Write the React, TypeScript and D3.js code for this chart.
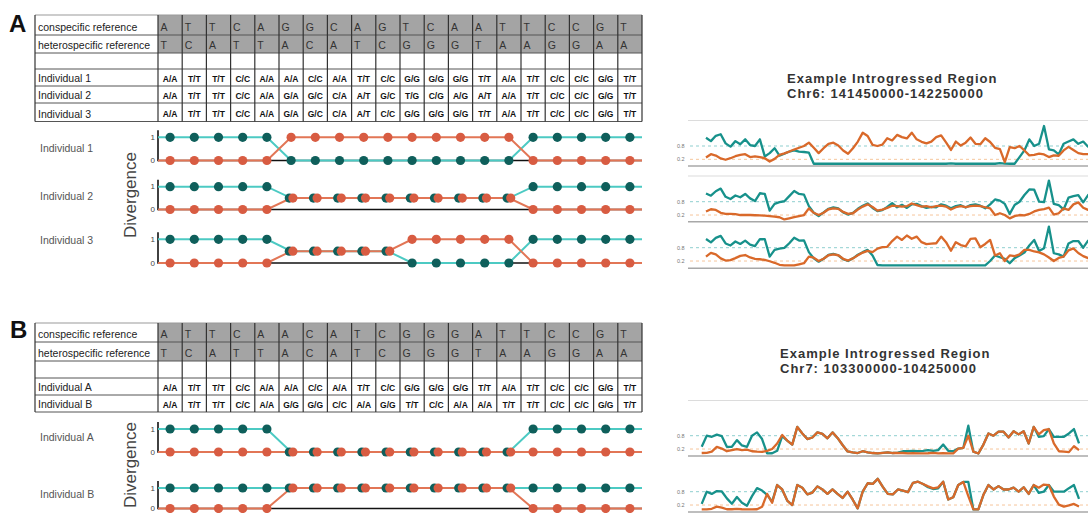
import React from "react";
import * as d3 from "d3";

// ---------------- DATA ----------------
const sites = d3.range(20);

const conspecificA = "A T T C A G G C A G T C A A T T C C G T".split(" ");
const heterospecificA = "T C A T T A C A T C G G G T A A G G A A".split(" ");
const individualsA = ["Individual 1", "Individual 2", "Individual 3"];
const genotypesA = [
  "A/A T/T T/T C/C A/A A/A C/C A/A T/T C/C G/G G/G G/G T/T A/A T/T C/C C/C G/G T/T".split(" "),
  "A/A T/T T/T C/C A/A G/A G/C C/A A/T G/C T/G C/G A/G A/T A/A T/T C/C C/C G/G T/T".split(" "),
  "A/A T/T T/T C/C A/A G/A G/C C/A A/T C/C G/G G/G G/G T/T A/A T/T C/C C/C G/G T/T".split(" "),
];

const conspecificB = "A T T C A A C A T C G G G A T T C C G T".split(" ");
const heterospecificB = "T C A T T A C A T C G G G T A A G G A A".split(" ");
const individualsB = ["Individual A", "Individual B"];
const genotypesB = [
  "A/A T/T T/T C/C A/A A/A C/C A/A T/T C/C G/G G/G G/G T/T A/A T/T C/C C/C G/G T/T".split(" "),
  "A/A T/T T/T C/C A/A G/G G/G C/C A/A G/G T/T C/C A/A A/A T/T T/T C/C C/C G/G T/T".split(" "),
];

const refLabels = ["conspecific reference", "heterospecific reference"];
const divTicks = [1, 0];

// divergence per site (teal = from heterospecific, orange = from conspecific)
const ind1Het = [1, 1, 1, 1, 1, 0, 0, 0, 0, 0, 0, 0, 0, 0, 0, 1, 1, 1, 1, 1];
const ind1Con = [0, 0, 0, 0, 0, 1, 1, 1, 1, 1, 1, 1, 1, 1, 1, 0, 0, 0, 0, 0];
const ind2Het = [1, 1, 1, 1, 1, 0.5, 0.5, 0.5, 0.5, 0.5, 0.5, 0.5, 0.5, 0.5, 0.5, 1, 1, 1, 1, 1];
const ind2Con = [0, 0, 0, 0, 0, 0.5, 0.5, 0.5, 0.5, 0.5, 0.5, 0.5, 0.5, 0.5, 0.5, 0, 0, 0, 0, 0];
const ind3Het = [1, 1, 1, 1, 1, 0.5, 0.5, 0.5, 0.5, 0.5, 0, 0, 0, 0, 0, 1, 1, 1, 1, 1];
const ind3Con = [0, 0, 0, 0, 0, 0.5, 0.5, 0.5, 0.5, 0.5, 1, 1, 1, 1, 1, 0, 0, 0, 0, 0];
const indAHet = [1, 1, 1, 1, 1, 0, 0, 0, 0, 0, 0, 0, 0, 0, 0, 1, 1, 1, 1, 1];
const indACon = [0, 0, 0, 0, 0, 0, 0, 0, 0, 0, 0, 0, 0, 0, 0, 0, 0, 0, 0, 0];
const indBHet = [1, 1, 1, 1, 1, 1, 1, 1, 1, 1, 1, 1, 1, 1, 1, 1, 1, 1, 1, 1];
const indBCon = [0, 0, 0, 0, 0, 1, 1, 1, 1, 1, 1, 1, 1, 1, 1, 0, 0, 0, 0, 0];

const titleA = ["Example Introgressed Region", "Chr6: 141450000-142250000"];
const titleB = ["Example Introgressed Region", "Chr7: 103300000-104250000"];
const trackTicks = [0.8, 0.2];

// Chr6 windows (80)
const a1Teal = [1.17, 1.02, 1.26, 1.33, 0.92, 0.77, 1.02, 0.88, 1.1, 0.84,
  0.8, 1.1, 0.33, 0.48, 0.7, 0.37, 0.45, 0.55, 0.6, 0.55,
  0.53, 0.5, 0, 0, 0, 0, 0, 0, 0, 0,
  0, 0, 0, 0, 0, 0, 0, 0, 0, 0,
  0, 0, 0, 0, 0, 0, 0, 0, 0, 0,
  0.02, 0, 0, 0, 0, 0, 0, 0, 0, 0,
  0.03, 0.01, 0, 0, 0.3, 0.6, 1.1, 0.8, 0.9, 1.7,
  0.65, 0.6, 0.42, 0.9, 1.0, 1.1, 0.9, 1.0, 0.77, 0.9];
const a1Orange = [0.28, 0.43, 0.37, 0.24, 0.18, 0.25, 0.34, 0.4, 0.43, 0.3,
  0.33, 0.3, 0.25, 0.1, 0.22, 0.4, 0.47, 0.55, 0.64, 0.72,
  0.8, 0.95, 0.72, 0.48, 0.7, 0.9, 0.95, 0.82, 0.6, 0.45,
  0.7, 1.0, 1.4, 1.25, 0.85, 0.8, 0.86, 1.15, 1.05, 1.3,
  1.2, 1.14, 1.4, 1.1, 0.99, 0.92, 1.0, 1.2, 1.28, 0.96,
  0.62, 1.0, 0.82, 0.95, 1.18, 0.9, 0.88, 1.15, 0.98, 0.72,
  0.66, 0.07, 0.75, 0.7, 0.8, 0.6, 0.38, 0.4, 0.46, 0.42,
  0.3, 0.38, 0.36, 0.6, 0.76, 0.62, 0.48, 0.43, 0.43, 0.4];
const a2Teal = [1.17, 1.07, 1.27, 1.39, 1.02, 0.92, 1.08, 1.0, 1.15, 0.95,
  0.83, 1.18, 1.15, 0.4, 0.7, 0.78, 0.82, 1.05, 1.28, 1.15,
  1.12, 0.6, 0.3, 0.15, 0.32, 0.48, 0.54, 0.5, 0.32, 0.22,
  0.3, 0.48, 0.62, 0.72, 0.52, 0.38, 0.42, 0.56, 0.73, 0.55,
  0.66, 0.52, 0.68, 0.7, 0.6, 0.52, 0.57, 0.55, 0.68, 0.62,
  0.5, 0.6, 0.64, 0.54, 0.65, 0.68, 0.62, 0.5, 0.68, 0.9,
  0.85, 0.7, 0.25, 0.65, 0.8, 1.1, 1.35, 1.34, 0.8, 0.78,
  1.75, 0.7, 0.65, 0.45, 0.98, 1.05, 1.1, 0.77, 1.1, 1.0];
const a2Orange = [0.36, 0.46, 0.43, 0.3, 0.25, 0.25, 0.24, 0.2, 0.2, 0.2,
  0.19, 0.18, 0.17, 0.15, 0.13, 0.1, 0.0, 0.05, 0.1, 0.15,
  0.2, 0.5, 0.3, 0.2, 0.3, 0.46, 0.5, 0.48, 0.34, 0.25,
  0.28, 0.45, 0.58, 0.68, 0.56, 0.4, 0.44, 0.52, 0.62, 0.6,
  0.58, 0.6, 0.72, 0.65, 0.58, 0.6, 0.55, 0.6, 0.62, 0.58,
  0.45, 0.55, 0.6, 0.56, 0.6, 0.62, 0.6, 0.55, 0.5, 0.2,
  0.28, 0.2, 0.05, 0.15, 0.2, 0.18, 0.25, 0.36, 0.43, 0.47,
  0.53, 0.22, 0.28, 0.5, 0.43, 0.68, 0.77, 0.53, 0.43, 0.4];
const a3Teal = [1.19, 1.04, 1.24, 1.33, 0.99, 0.9, 1.08, 0.97, 1.12, 0.94,
  0.87, 1.19, 1.18, 0.4, 0.7, 0.76, 0.79, 1.0, 1.25, 1.12,
  1.13, 0.6, 0.32, 0.17, 0.3, 0.48, 0.52, 0.46, 0.28, 0.2,
  0.32, 0.48, 0.6, 0.7, 0.45, 0.02, 0, 0, 0, 0,
  0, 0, 0, 0, 0, 0, 0, 0, 0, 0,
  0, 0, 0, 0, 0, 0, 0, 0, 0.2, 0.45,
  0.37, 0.3, 0.1, 0.33, 0.45, 0.58, 0.9, 1.15, 0.65, 0.78,
  1.75, 0.55, 0.5, 0.4, 0.99, 1.1, 1.1, 0.8, 1.12, 1.0];
const a3Orange = [0.4, 0.57, 0.5, 0.32, 0.22, 0.24, 0.33, 0.43, 0.47, 0.36,
  0.3, 0.28, 0.25, 0.19, 0.12, 0.03, 0, 0, 0, 0.05,
  0.1, 0.4, 0.35, 0.2, 0.3, 0.46, 0.5, 0.46, 0.3, 0.22,
  0.32, 0.46, 0.58, 0.66, 0.6, 0.76, 0.83, 0.84, 1.1, 1.3,
  1.15, 1.35, 1.2, 1.3, 1.05, 0.96, 0.98, 1.0, 1.3, 1.05,
  0.66, 1.05, 0.92, 0.86, 1.2, 1.22, 0.82, 0.97, 1.15, 0.45,
  0.55, 0.2, 0.45, 0.42, 0.5, 0.7, 0.7, 0.63, 0.59, 0.5,
  0.36, 0.2, 0.34, 0.4, 0.68, 0.77, 0.56, 0.42, 0.33, 0.35];

// Chr7 windows (76)
const b1Teal = [0.3, 0.8, 0.75, 0.85, 0.78, 0.3, 0.3, 0.6, 0.36, 0.3,
  0.8, 0.95, 0.65, 0.0, 0.01, 0.12, 0.78, 0.58, 0.4, 1.2,
  0.9, 0.65, 0.72, 0.95, 0.88, 0.68, 0.95, 0.7, 0.38, 0.09,
  0.05, 0.02, 0.1, 0.05, 0.02, 0, 0.03, 0.05, 0.02, 0.04,
  0.1, 0.1, 0.12, 0.1, 0.12, 0.15, 0.12, 0.15, 0.4, 0.12,
  0.1, 0.22, 0.25, 1.25, 0.08, 0, 0.4, 0.9, 0.8, 0.98,
  0.98, 0.72, 1.0, 0.86, 1.0, 0.45, 1.2, 0.75, 0.78, 1.1,
  0.75, 0.75, 0.75, 0.9, 1.1, 0.45];
const b1Orange = [0.02, 0.03, 0.08, 0.3, 0.22, 0.1, 0.15, 0.2, 0.15, 0.17,
  0.1, 0.08, 0.07, 0.12, 0.2, 0.45, 0.83, 0.58, 0.4, 1.2,
  0.9, 0.65, 0.72, 0.95, 0.88, 0.68, 0.95, 0.7, 0.38, 0.09,
  0.05, 0.02, 0.1, 0.05, 0.02, 0, 0.03, 0.05, 0.02, 0.02,
  0.02, 0, 0.01, 0, 0, 0.01, 0.03, 0, 0.01, 0,
  0, 0.22, 0.25, 0.8, 0.08, 0, 0.4, 0.9, 0.8, 0.98,
  0.98, 0.72, 1.0, 0.86, 1.0, 0.45, 1.2, 0.86, 1.05, 1.1,
  0.45, 0.1, 0.08, 0.06, 0.33, 0.15];
const b2Teal = [0.25, 0.8, 0.7, 0.83, 0.81, 0.5, 0.26, 0.56, 0.3, 0.17,
  0.6, 0.96, 0.85, 0.66, 0.35, 1.1, 0.9, 0.4, 0.2, 1.1,
  0.98, 0.68, 0.76, 1.04, 0.9, 0.7, 0.9, 0.7, 0.52, 0.8,
  0.45, 0.05, 0.8, 1.18, 1.15, 1.38, 1.02, 0.7, 0.68, 0.9,
  0.85, 0.78, 1.2, 1.25, 1.15, 1.0, 0.92, 0.95, 1.25, 0.45,
  0.55, 1.1, 1.24, 1.24, 0, 0, 0.66, 1.1, 0.9, 1.05,
  0.9, 0.9, 0.98, 0.8, 1.0, 0.7, 1.1, 0.75, 0.8, 1.1,
  0.8, 0.8, 0.8, 0.96, 1.1, 0.48];
const b2Orange = [0, 0, 0.03, 0.13, 0.08, 0.01, 0.01, 0.03, 0.01, 0,
  0, 0.01, 0.12, 0.7, 0.3, 1.1, 0.9, 0.4, 0.2, 1.1,
  0.98, 0.68, 0.76, 1.04, 0.9, 0.7, 0.9, 0.7, 0.52, 0.8,
  0.45, 0.05, 0.8, 1.18, 1.15, 1.38, 1.02, 0.7, 0.68, 0.9,
  0.85, 0.78, 1.2, 1.25, 1.15, 1.04, 0.95, 1.0, 1.25, 0.45,
  0.55, 1.1, 1.24, 0.6, 0, 0, 0.66, 1.1, 0.9, 1.05,
  0.9, 0.9, 0.98, 0.8, 1.0, 0.7, 1.1, 0.98, 1.12, 1.1,
  0.58, 0.22, 0.13, 0.18, 0.25, 0.13];

// ---------------- STYLE ----------------
const FONT = "'Liberation Sans', Arial, sans-serif";
const tealLine = "#4ccac3";
const tealDot = "#0f5f5b";
const orangeLine = "#e27656";
const orangeDot = "#d85c42";
const rTeal = "#17918b";
const rOrange = "#d9692a";
const dashTeal = "#8fcfcf";
const dashOrange = "#f6c69b";

const xBand = d3.scaleBand<number>().domain(sites).range([158, 642]);
const tableLeft = 35;

function GenoTable({ rows, con, het, inds, genos }: any) {
  const [xa, xb] = xBand.range();
  const w = xBand.bandwidth();
  const nRows = rows.length - 1;
  const bottom = rows[nRows];
  return (
    <g fontFamily={FONT}>
      {[0, 1].map((r) => (
        <rect key={r} x={xa} y={rows[r]} width={xb - xa} height={rows[r + 1] - rows[r]} fill="#a4a4a4" />
      ))}
      {rows.map((y: number, i: number) => (
        <line key={"h" + i} x1={tableLeft} x2={xb} y1={y} y2={y}
          stroke={i === 0 ? "#999" : "#555"} strokeWidth={i === 0 ? 1.2 : 1} />
      ))}
      {[tableLeft, ...sites.map((s) => xBand(s)!), xb].map((x, i) => (
        <line key={"v" + i} x1={x} x2={x} y1={rows[0]} y2={bottom} stroke="#333" strokeWidth={1.2} />
      ))}
      {refLabels.map((t, r) => (
        <text key={"rl" + r} x={tableLeft + 3} y={rows[r + 1] - 4.5} fontSize={10.5} fill="#222">{t}</text>
      ))}
      {[con, het].map((arr: string[], r) =>
        arr.map((b, i) => (
          <text key={"b" + r + i} x={xBand(i)! + 2.5} y={rows[r + 1] - 4.5} fontSize={10.5} fill="#333">{b}</text>
        ))
      )}
      {inds.map((lab: string, k: number) => (
        <text key={"il" + k} x={tableLeft + 3} y={rows[k + 4] - 4} fontSize={10.5} fill="#222">{lab}</text>
      ))}
      {genos.map((g: string[], k: number) =>
        g.map((t, i) => (
          <text key={"g" + k + i} x={xBand(i)! + w / 2} y={rows[k + 4] - 4.5} fontSize={8.5}
            fontWeight="bold" textAnchor="middle" fill="#111">{t}</text>
        ))
      )}
    </g>
  );
}

function DivPanel({ y1, y0, het, con, label, labelY }: any) {
  const y = d3.scaleLinear().domain([0, 1]).range([y0, y1]);
  const [xa, xb] = xBand.range();
  const cx = (i: number) => xBand(i)! + xBand.bandwidth() / 2;
  const ext = (v: number[]) => [v[0], ...v, v[v.length - 1]];
  const line = d3
    .line<number>()
    .x((_d, i, arr) => (i === 0 ? xa : i === arr.length - 1 ? xb : cx(i - 1)))
    .y((d) => y(d));
  return (
    <g fontFamily={FONT}>
      <text x={40} y={labelY} fontSize={10.5} fill="#555">{label}</text>
      <line x1={xa} x2={xb} y1={y(0)} y2={y(0)} stroke="#111" strokeWidth={1.6} />
      <line x1={xa} x2={xa} y1={y(1) - 7} y2={y(0) + 0.8} stroke="#111" strokeWidth={1.6} />
      {divTicks.map((t) => (
        <text key={t} x={xa - 3} y={y(t) + 2.5} textAnchor="end" fontSize={8} fill="#444">{t}</text>
      ))}
      <path d={line(ext(het))!} fill="none" stroke={tealLine} strokeWidth={2} />
      <path d={line(ext(con))!} fill="none" stroke={orangeLine} strokeWidth={2} />
      {het.map((v: number, i: number) => (
        <circle key={"t" + i} cx={cx(i) - (v === con[i] ? 1.8 : 0)} cy={y(v)} r={4.6} fill={tealDot} />
      ))}
      {con.map((v: number, i: number) => (
        <circle key={"o" + i} cx={cx(i) + (v === het[i] ? 1.8 : 0)} cy={y(v)} r={4.6} fill={orangeDot} />
      ))}
    </g>
  );
}

function TrackPanel({ y08, base, top, teal, orange, x }: any) {
  const k = 22.2;
  const y = d3.scaleLinear().domain([0, 0.8]).range([y08 + 0.8 * k, y08]);
  const line = d3.line<number>().x((_d, i) => x(i)).y((d) => y(d));
  return (
    <g fontFamily={FONT}>
      {top != null && <line x1={688} x2={1088} y1={top} y2={top} stroke="#dcdcdc" strokeWidth={1.2} />}
      {trackTicks.map((t) => (
        <g key={t}>
          <line x1={690} x2={1088} y1={y(t)} y2={y(t)} stroke={t > 0.5 ? dashTeal : dashOrange}
            strokeDasharray="3,3" strokeWidth={1} />
          <text x={677} y={y(t)} dy="0.35em" fontSize={5.5} fill="#777">{t.toFixed(1)}</text>
        </g>
      ))}
      <line x1={688} x2={1088} y1={base} y2={base} stroke="#a8a8a8" strokeWidth={1.6} />
      <path d={line(teal)!} fill="none" stroke={rTeal} strokeWidth={2.3} strokeLinejoin="round" />
      <path d={line(orange)!} fill="none" stroke={rOrange} strokeWidth={2.3} strokeLinejoin="round" />
    </g>
  );
}

function Title({ x, y, lines }: any) {
  return (
    <g fontFamily={FONT} fontWeight="bold" fontSize={13} fill="#333" letterSpacing={1}>
      {lines.map((t: string, i: number) => (
        <text key={i} x={x} y={y + i * 15}>{t}</text>
      ))}
    </g>
  );
}

export default function App() {
  const xA = d3.scaleLinear().domain([0, a1Teal.length - 1]).range([706, 1093]);
  const xB = d3.scaleLinear().domain([0, b1Teal.length - 1]).range([701.7, 1079]);
  return (
    <svg width={1088} height={513} style={{ position: "absolute", left: 0, top: 0, background: "#fff" }}>
      <text x={9} y={32} fontFamily={FONT} fontWeight="bold" fontSize={24} fill="#111">A</text>
      <text x={10} y={338} fontFamily={FONT} fontWeight="bold" fontSize={24} fill="#111">B</text>

      <GenoTable rows={[15, 35, 53, 69, 86, 103, 121.5]} con={conspecificA} het={heterospecificA}
        inds={individualsA} genos={genotypesA} />
      <GenoTable rows={[323, 342, 361, 378, 395, 412]} con={conspecificB} het={heterospecificB}
        inds={individualsB} genos={genotypesB} />

      <text transform="translate(136,195) rotate(-90)" textAnchor="middle" fontFamily={FONT}
        fontSize={17} fill="#444">Divergence</text>
      <text transform="translate(136,465) rotate(-90)" textAnchor="middle" fontFamily={FONT}
        fontSize={17} fill="#444">Divergence</text>

      <DivPanel y1={137.3} y0={160.5} het={ind1Het} con={ind1Con} label={individualsA[0]} labelY={152} />
      <DivPanel y1={186.7} y0={209.5} het={ind2Het} con={ind2Con} label={individualsA[1]} labelY={200} />
      <DivPanel y1={239.3} y0={263} het={ind3Het} con={ind3Con} label={individualsA[2]} labelY={244} />
      <DivPanel y1={429} y0={452} het={indAHet} con={indACon} label={individualsB[0]} labelY={441} />
      <DivPanel y1={488} y0={508.5} het={indBHet} con={indBCon} label={individualsB[1]} labelY={498} />

      <Title x={787} y={82.5} lines={titleA} />
      <Title x={780} y={358} lines={titleB} />

      <TrackPanel y08={146} base={166} top={120.5} teal={a1Teal} orange={a1Orange} x={xA} />
      <TrackPanel y08={201.7} base={221.7} top={176} teal={a2Teal} orange={a2Orange} x={xA} />
      <TrackPanel y08={247.7} base={268.3} teal={a3Teal} orange={a3Orange} x={xA} />
      <TrackPanel y08={435.7} base={456} top={400.5} teal={b1Teal} orange={b1Orange} x={xB} />
      <TrackPanel y08={491.7} base={512} teal={b2Teal} orange={b2Orange} x={xB} />
    </svg>
  );
}
